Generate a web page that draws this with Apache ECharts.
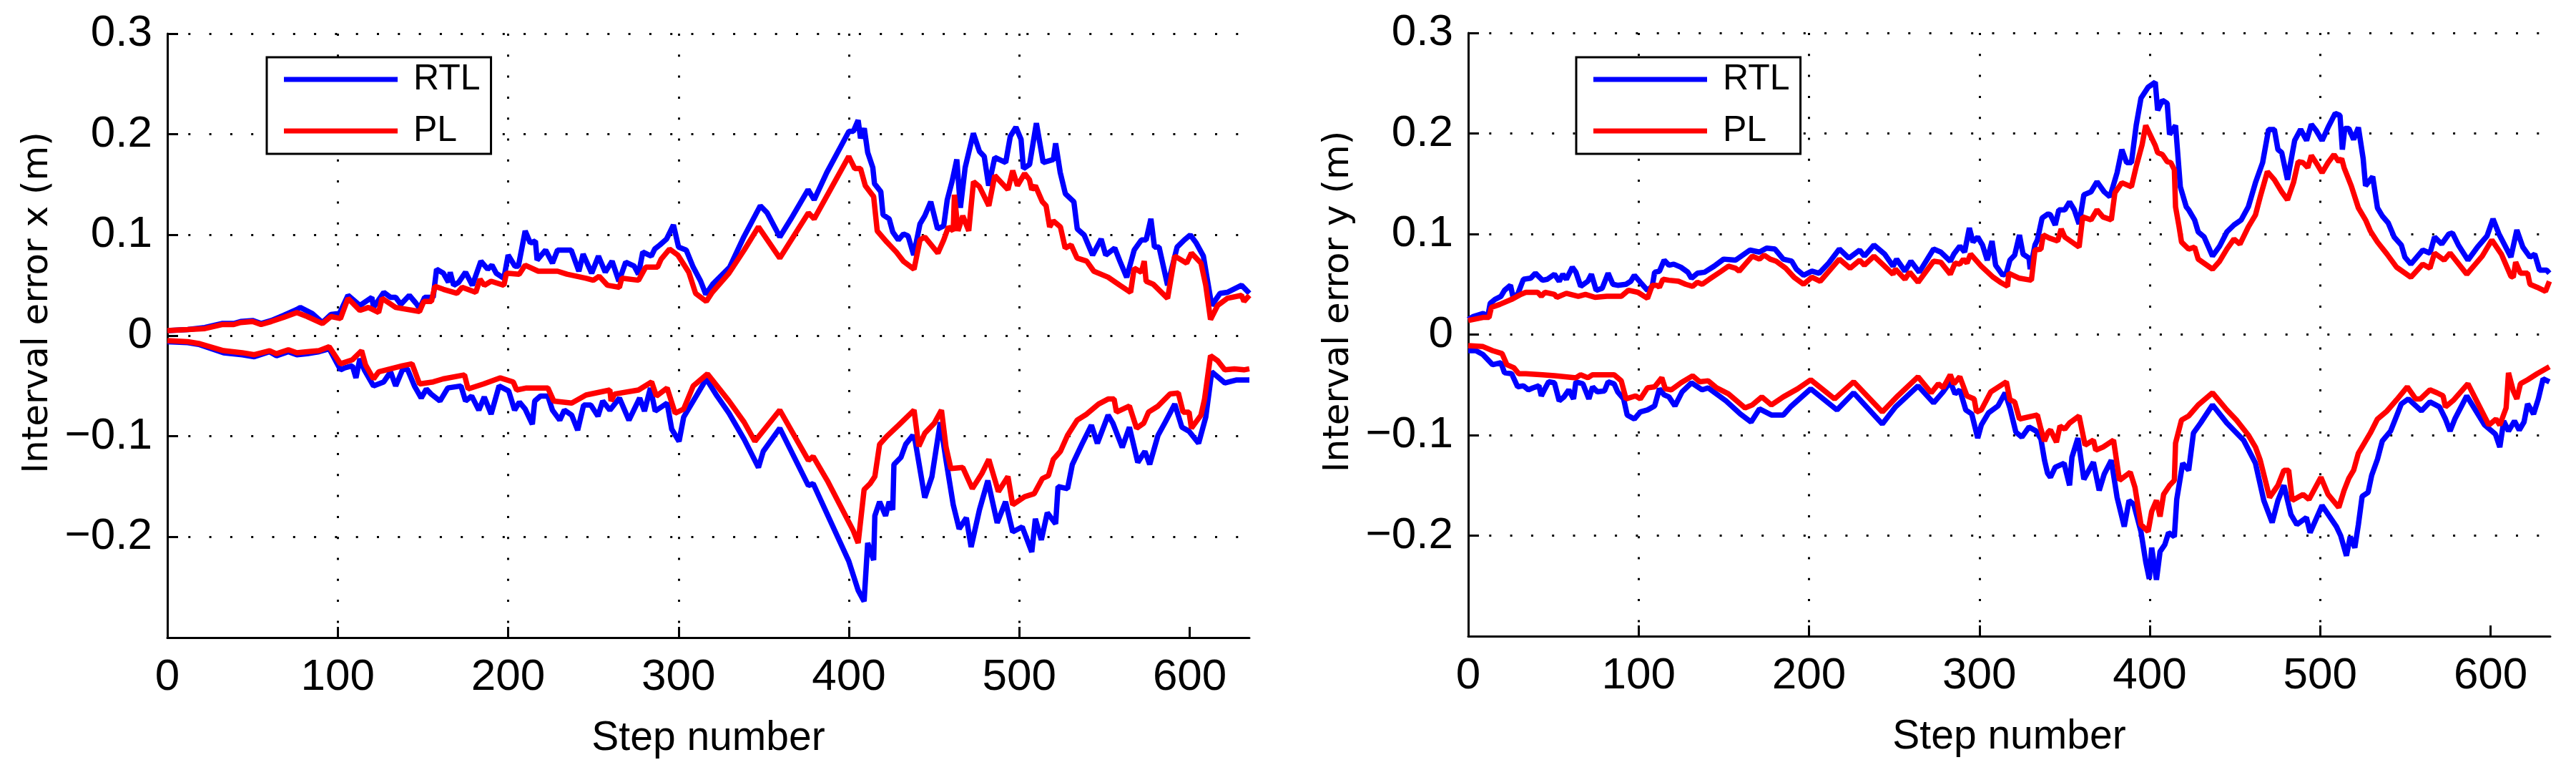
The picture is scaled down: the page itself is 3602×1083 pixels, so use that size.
<!DOCTYPE html>
<html>
<head>
<meta charset="utf-8">
<title>Interval error</title>
<script src="https://cdn.jsdelivr.net/npm/echarts/dist/echarts.min.js"></script>
<style>
    html, body { margin: 0; padding: 0; background: #fff; }
    #chart { width: 3602px; height: 1083px; }
</style>
</head>
<body>
<div id="chart"></div>
<script>
    // ticks
    var stepTicks = [0, 100, 200, 300, 400, 500, 600];
    var stepTickLabels = ['0', '100', '200', '300', '400', '500', '600'];
    var yTickLabels = ['', '\u22120.2', '\u22120.1', '0', '0.1', '0.2', '0.3']; // -0.3 .. 0.3
    var seriesNames = ['RTL', 'PL'];
    var axisNames = ['Interval error x (m)', 'Interval error y (m)'];

    // left panel: interval error x, [step, value]
    var xRtlUpper = [[0,0.005],[12,0.006],[22,0.008],[32,0.012],[39,0.012],[43,0.014],[50,0.015],[55,0.012],[61,0.015],[68,0.020],[76,0.026],[78,0.028],[85,0.022],[91,0.013],[96,0.021],[101,0.022],[106,0.040],[113,0.030],[120,0.038],[121,0.028],[127,0.043],[131,0.038],[134,0.038],[137,0.031],[142,0.040],[146,0.032],[148,0.027],[151,0.038],[156,0.038],[158,0.066],[162,0.062],[165,0.053],[166,0.063],[168,0.050],[171,0.053],[175,0.063],[179,0.050],[184,0.074],[188,0.066],[190.5,0.070],[193,0.062],[197.5,0.057],[200,0.080],[204,0.069],[206,0.069],[210,0.104],[213,0.092],[216,0.094],[217,0.075],[222,0.085],[226,0.072],[229,0.085],[237,0.085],[241.5,0.064],[244,0.081],[249,0.062],[253,0.079],[257,0.063],[261,0.074],[265,0.054],[269,0.073],[274,0.069],[276.5,0.061],[279,0.083],[284,0.079],[286,0.086],[289,0.090],[293,0.096],[297,0.110],[300,0.088],[304.5,0.085],[308.6,0.068],[313,0.054],[316,0.041],[320,0.051],[330,0.068],[338,0.097],[348,0.129],[352,0.122],[357,0.106],[359.4,0.098],[366,0.116],[376,0.145],[379.6,0.135],[387,0.162],[400,0.203],[402.6,0.203],[405.4,0.214],[406.8,0.196],[409,0.206],[411,0.182],[414,0.167],[415,0.151],[418.7,0.143],[420,0.120],[423.6,0.116],[425.7,0.103],[429,0.095],[432,0.101],[434.7,0.099],[438,0.080],[441.7,0.111],[444.5,0.119],[448,0.133],[452,0.106],[455.6,0.109],[457.7,0.135],[460.5,0.153],[463.3,0.175],[465.4,0.127],[468.2,0.167],[473,0.201],[476.6,0.183],[479.4,0.178],[482,0.149],[485.6,0.177],[492,0.172],[494.7,0.198],[498,0.207],[501,0.195],[502.4,0.166],[506,0.170],[510,0.211],[514,0.172],[520,0.175],[521.3,0.191],[524,0.162],[527,0.141],[532,0.133],[534,0.106],[538,0.100],[543,0.080],[548,0.096],[550.7,0.080],[556,0.087],[559,0.074],[563,0.058],[567.4,0.085],[571.6,0.095],[574.4,0.095],[577.2,0.116],[579.3,0.088],[582,0.088],[587,0.050],[592.6,0.088],[596.8,0.095],[600.3,0.100],[603.8,0.092],[608,0.079],[612.9,0.030],[617.8,0.042],[622,0.043],[630.4,0.050],[635,0.042]];
    var xPlUpper = [[0,0.005],[12,0.006],[22,0.007],[32,0.011],[39,0.011],[43,0.013],[50,0.014],[55,0.011],[61,0.014],[68,0.018],[76,0.023],[82,0.019],[91,0.012],[96,0.019],[101.6,0.017],[106,0.037],[113,0.025],[118,0.028],[124,0.023],[126,0.037],[134,0.028],[148,0.024],[150.5,0.034],[155,0.034],[157,0.049],[162,0.046],[170,0.042],[173,0.048],[181,0.043],[183.5,0.056],[186,0.050],[190,0.054],[197.5,0.050],[199,0.062],[206.5,0.061],[210,0.070],[217.7,0.064],[229,0.064],[234.5,0.061],[245.7,0.057],[250,0.055],[253.4,0.059],[258.3,0.050],[265.3,0.048],[266.7,0.057],[276.5,0.055],[280.7,0.068],[287.7,0.068],[289.8,0.076],[294.7,0.086],[299.6,0.080],[306,0.063],[310,0.042],[316.3,0.034],[319.8,0.043],[329.6,0.062],[338.5,0.085],[346.9,0.108],[359.4,0.077],[376.2,0.122],[379.6,0.116],[399.9,0.178],[403.4,0.166],[406.8,0.166],[409.6,0.149],[414.5,0.138],[416.6,0.104],[422.2,0.093],[427.8,0.083],[431.9,0.074],[438.2,0.066],[441.7,0.095],[444.5,0.098],[452.2,0.082],[455.6,0.095],[458.4,0.108],[461.2,0.104],[461.9,0.140],[464,0.104],[466.8,0.119],[470.3,0.104],[473.1,0.153],[476.6,0.148],[482.1,0.129],[485.6,0.159],[493.3,0.145],[496.1,0.164],[498.9,0.149],[503.1,0.161],[505.9,0.155],[507.3,0.145],[509.4,0.149],[513.5,0.133],[515.7,0.129],[517.8,0.108],[519.9,0.114],[524.1,0.108],[526.9,0.087],[530.4,0.090],[533.9,0.077],[539.5,0.074],[543.7,0.064],[552.1,0.058],[559,0.050],[565.3,0.043],[567.4,0.067],[571.6,0.063],[573.3,0.074],[574.4,0.054],[578.6,0.051],[587,0.037],[591.2,0.079],[598.2,0.072],[601,0.082],[606.6,0.072],[609.4,0.050],[612.2,0.016],[616.4,0.030],[622,0.037],[630.4,0.040],[631.8,0.034],[635,0.040]];
    var xRtlLower = [[0,-0.006],[12,-0.007],[19,-0.009],[33,-0.017],[44,-0.019],[51,-0.021],[60,-0.016],[64,-0.020],[71,-0.016],[76,-0.019],[82,-0.018],[89,-0.016],[95,-0.013],[101.6,-0.034],[104,-0.032],[108.6,-0.030],[110.7,-0.042],[113,-0.023],[115.6,-0.034],[121,-0.050],[127,-0.046],[131,-0.036],[134,-0.050],[138,-0.034],[140.8,-0.033],[145,-0.050],[149,-0.062],[152,-0.053],[154.8,-0.058],[160,-0.065],[164.6,-0.052],[172.3,-0.050],[175,-0.065],[178.6,-0.060],[182.8,-0.074],[186,-0.061],[190,-0.078],[194.7,-0.050],[200.3,-0.055],[203.8,-0.074],[206.6,-0.066],[210,-0.073],[214.2,-0.088],[215.6,-0.065],[219,-0.060],[223.3,-0.060],[226,-0.074],[230.3,-0.084],[233,-0.074],[237.3,-0.079],[240.8,-0.094],[244.3,-0.069],[248.5,-0.069],[252.7,-0.080],[255.5,-0.065],[259.7,-0.074],[265.3,-0.062],[270.9,-0.084],[277.2,-0.062],[280,-0.075],[283.5,-0.052],[286.3,-0.075],[293.3,-0.067],[296,-0.093],[300.3,-0.105],[303,-0.081],[310,-0.061],[316.3,-0.043],[322.6,-0.060],[329.6,-0.077],[338.5,-0.103],[346.9,-0.131],[349.7,-0.115],[359.4,-0.092],[376.2,-0.149],[379,-0.147],[399.9,-0.224],[405.4,-0.253],[408.9,-0.264],[411,-0.206],[414.5,-0.223],[415.2,-0.179],[418,-0.165],[421.5,-0.179],[423.6,-0.165],[425.7,-0.173],[426.4,-0.128],[430.5,-0.121],[433.3,-0.108],[437.5,-0.099],[438.9,-0.105],[444.5,-0.161],[448.7,-0.140],[453.6,-0.086],[457,-0.124],[461.2,-0.168],[464.7,-0.192],[468.9,-0.181],[471.7,-0.210],[476.6,-0.173],[481.5,-0.144],[487,-0.186],[491.9,-0.165],[496.1,-0.195],[501.7,-0.190],[507.3,-0.215],[509.4,-0.182],[512.9,-0.203],[516.4,-0.176],[521.3,-0.187],[522.7,-0.150],[528.3,-0.152],[531.1,-0.128],[536.7,-0.108],[542.3,-0.089],[545.8,-0.107],[552.1,-0.079],[554.9,-0.087],[560.4,-0.111],[564.6,-0.091],[569.5,-0.126],[573.7,-0.115],[576.5,-0.128],[581.4,-0.099],[585.6,-0.086],[591.2,-0.068],[595.4,-0.091],[599.6,-0.095],[605.2,-0.107],[609.4,-0.081],[612.9,-0.036],[616.4,-0.041],[620.6,-0.047],[627.6,-0.044],[635,-0.044]];
    var xPlLower = [[0,-0.005],[12,-0.006],[19,-0.008],[33,-0.015],[44,-0.017],[51,-0.019],[60,-0.015],[64,-0.018],[71,-0.014],[76,-0.017],[82,-0.016],[89,-0.015],[95,-0.011],[101.6,-0.028],[108.6,-0.024],[114,-0.015],[116.3,-0.029],[121,-0.043],[124,-0.036],[131,-0.033],[138,-0.030],[143.6,-0.028],[148,-0.048],[156,-0.046],[161.8,-0.043],[174.4,-0.039],[176.5,-0.053],[185.6,-0.048],[195.4,-0.042],[203,-0.046],[205,-0.054],[210.8,-0.052],[223.3,-0.052],[226.8,-0.065],[237.3,-0.067],[245.7,-0.059],[259.7,-0.054],[260.4,-0.065],[262.5,-0.058],[276.5,-0.054],[284.2,-0.046],[287,-0.060],[293.3,-0.052],[298,-0.077],[303,-0.073],[308.6,-0.050],[317,-0.038],[322.6,-0.050],[329.6,-0.065],[338.5,-0.086],[344.8,-0.105],[359.4,-0.074],[376.2,-0.124],[379,-0.120],[387.3,-0.144],[402.6,-0.194],[405.4,-0.206],[408.9,-0.153],[412.4,-0.147],[415.2,-0.140],[418,-0.108],[422.2,-0.100],[429.1,-0.089],[438.2,-0.074],[441,-0.110],[444.5,-0.097],[450.1,-0.087],[454.3,-0.074],[457,-0.111],[459.8,-0.132],[466.8,-0.131],[472.4,-0.152],[478,-0.137],[482.1,-0.123],[487.7,-0.155],[493.3,-0.140],[496.1,-0.168],[503.1,-0.160],[508.7,-0.157],[513.5,-0.142],[517.1,-0.139],[519.9,-0.123],[524.1,-0.115],[528.3,-0.099],[533.9,-0.084],[539.5,-0.078],[546.5,-0.068],[552.1,-0.063],[555.6,-0.063],[557,-0.076],[564.6,-0.070],[568.8,-0.092],[573,-0.087],[575.8,-0.076],[581.4,-0.070],[588.4,-0.058],[593.3,-0.057],[596.1,-0.076],[599.6,-0.076],[601,-0.092],[606.6,-0.079],[608.7,-0.063],[612.2,-0.020],[616.4,-0.025],[620.6,-0.034],[626.2,-0.033],[631.8,-0.034],[635,-0.033]];

    // right panel: interval error y, [step, value]
    var yRtlUpper = [[0,0.015],[3,0.018],[8.7,0.021],[11.5,0.018],[12.9,0.031],[15.7,0.035],[19.2,0.038],[21.3,0.044],[24.8,0.049],[26.2,0.038],[29,0.040],[32.4,0.055],[36.6,0.056],[39.4,0.061],[43.6,0.054],[46.4,0.055],[50.6,0.060],[53.4,0.053],[55.5,0.060],[57.6,0.055],[61.1,0.067],[63.2,0.062],[66,0.048],[70.2,0.053],[72.3,0.060],[75.1,0.044],[78.6,0.046],[82.1,0.061],[84.9,0.050],[87.7,0.049],[92.6,0.050],[95.4,0.053],[97.5,0.059],[101,0.052],[105.2,0.044],[108,0.048],[109.4,0.062],[112.2,0.063],[115,0.074],[117.8,0.069],[120.6,0.070],[124.8,0.067],[128.9,0.062],[131,0.056],[134.5,0.061],[138.7,0.062],[144.3,0.068],[149.9,0.075],[156.9,0.074],[165.3,0.084],[170.9,0.082],[175.1,0.086],[180,0.085],[184.9,0.075],[189.8,0.073],[192.6,0.065],[196.8,0.059],[201.7,0.063],[205.9,0.061],[211.5,0.071],[217.8,0.085],[223.4,0.076],[229.7,0.084],[232.5,0.078],[238.1,0.089],[244.4,0.080],[249.3,0.068],[251.4,0.075],[256.3,0.063],[259.8,0.073],[264.7,0.062],[273.1,0.085],[277.3,0.082],[282.9,0.073],[285,0.080],[288.5,0.088],[291.3,0.082],[294.1,0.106],[296.2,0.092],[299,0.097],[301.8,0.089],[304.6,0.074],[307.4,0.093],[309.5,0.069],[313.7,0.059],[315.8,0.061],[317.9,0.074],[320.7,0.079],[323.5,0.099],[325.6,0.080],[329.1,0.076],[329.8,0.065],[332.6,0.089],[334,0.094],[336.8,0.116],[340.3,0.120],[341.7,0.119],[344.5,0.109],[346.6,0.124],[350.1,0.124],[352.9,0.132],[355.7,0.124],[358.5,0.110],[361.3,0.139],[365.5,0.142],[369,0.152],[373.2,0.142],[376.6,0.137],[380.8,0.161],[383.6,0.184],[386.4,0.171],[389.2,0.171],[392,0.208],[394.8,0.235],[399,0.246],[403.2,0.251],[404.6,0.223],[407.4,0.233],[410.2,0.230],[411.6,0.199],[415.1,0.208],[417.9,0.147],[421.4,0.127],[422.8,0.124],[426.3,0.114],[428.4,0.102],[431.9,0.097],[436.8,0.078],[441,0.088],[445.2,0.102],[449.4,0.109],[453.6,0.114],[457.8,0.127],[462,0.151],[466.2,0.171],[469.7,0.204],[473.1,0.204],[475.2,0.184],[477.4,0.181],[480.8,0.154],[485,0.193],[488.5,0.204],[492,0.193],[494.8,0.209],[497.6,0.203],[501.1,0.193],[504.6,0.206],[508.8,0.220],[511.6,0.218],[513,0.184],[514.4,0.205],[516.8,0.205],[519.6,0.194],[522.4,0.206],[525.2,0.175],[526.6,0.148],[530.8,0.157],[533.6,0.126],[536.4,0.118],[539.9,0.111],[543.4,0.097],[547.6,0.089],[549.7,0.077],[553.2,0.070],[560.2,0.084],[564.4,0.081],[567.1,0.097],[571.3,0.090],[575.5,0.100],[577.6,0.101],[581.1,0.089],[586.7,0.074],[592.3,0.087],[597.9,0.098],[601.4,0.115],[604.9,0.100],[611.9,0.077],[615.4,0.104],[618.9,0.087],[623.1,0.077],[625.9,0.080],[628.7,0.064],[632.9,0.064],[634.5,0.061]];
    var yPlUpper = [[0,0.014],[8.7,0.017],[12.2,0.017],[13.6,0.027],[18.5,0.030],[25.5,0.035],[31,0.040],[33.8,0.042],[40.8,0.042],[42.9,0.038],[45,0.042],[50.6,0.040],[52,0.037],[57.6,0.041],[64.6,0.038],[68.8,0.040],[74.4,0.037],[81.4,0.038],[89.8,0.038],[94,0.044],[99.6,0.042],[105.2,0.036],[108,0.049],[110.8,0.049],[112.2,0.047],[114.3,0.055],[117.8,0.054],[123.4,0.053],[127.6,0.050],[131.7,0.048],[134.5,0.052],[137.3,0.050],[141.5,0.055],[148.5,0.063],[152.7,0.068],[156.9,0.066],[159,0.063],[166.7,0.078],[170.9,0.075],[173.7,0.079],[177.2,0.075],[180.7,0.073],[186.3,0.066],[191.2,0.057],[196.8,0.050],[201.7,0.057],[206.6,0.053],[217.8,0.075],[224.1,0.066],[229.7,0.074],[232.5,0.069],[238.1,0.078],[243.7,0.069],[249.3,0.060],[250.7,0.065],[256.3,0.055],[259.1,0.062],[264,0.052],[273.1,0.073],[277.3,0.072],[282.9,0.060],[285.7,0.071],[288.5,0.070],[290.6,0.075],[292.7,0.071],[294.8,0.080],[301.1,0.068],[308.1,0.057],[312.3,0.052],[316.5,0.048],[317.2,0.061],[323.5,0.056],[330.5,0.054],[332.6,0.084],[336.1,0.085],[337.5,0.099],[341,0.096],[345.9,0.093],[348,0.105],[350.1,0.097],[358.5,0.087],[360.6,0.117],[365.5,0.114],[369,0.124],[372.5,0.117],[377.4,0.114],[379.5,0.141],[383.6,0.151],[389.2,0.147],[392,0.167],[395.5,0.189],[397.6,0.208],[400.4,0.198],[403.2,0.188],[404.6,0.181],[407.4,0.179],[410.2,0.172],[412.3,0.171],[414.4,0.164],[415.1,0.127],[417.2,0.107],[418.6,0.092],[422.8,0.085],[426.3,0.087],[428.4,0.075],[436.8,0.065],[441,0.073],[445.2,0.085],[449.4,0.095],[452.9,0.090],[457.8,0.107],[462,0.119],[464.8,0.137],[469,0.162],[473.1,0.154],[477.4,0.142],[480.8,0.134],[484.3,0.151],[487.1,0.172],[489.9,0.171],[492.7,0.166],[494.8,0.178],[498.3,0.169],[501.1,0.161],[504.6,0.171],[508.1,0.179],[510.9,0.172],[512.6,0.175],[514,0.166],[518.2,0.148],[522.4,0.126],[526.6,0.114],[529.4,0.103],[533.6,0.092],[539.2,0.080],[544.8,0.067],[553.2,0.057],[560.2,0.070],[564.4,0.066],[567.1,0.081],[572.7,0.074],[576.2,0.081],[586,0.060],[595.1,0.078],[600.7,0.094],[606.3,0.080],[611.9,0.058],[613.3,0.057],[614.7,0.072],[617.5,0.061],[621.7,0.061],[623.1,0.050],[627.3,0.047],[632.2,0.043],[634.5,0.053]];
    var yRtlLower = [[0,-0.016],[4.5,-0.016],[8.7,-0.020],[14.3,-0.030],[19.2,-0.028],[21.3,-0.038],[25.5,-0.039],[29,-0.052],[32.4,-0.051],[35.3,-0.055],[38,-0.053],[41.5,-0.051],[42.9,-0.061],[45,-0.054],[47.2,-0.047],[50.6,-0.048],[53.4,-0.066],[56.2,-0.062],[59,-0.055],[61.8,-0.064],[63.2,-0.047],[67.3,-0.049],[70.8,-0.064],[73,-0.052],[75.8,-0.057],[80,-0.056],[82.1,-0.047],[85.6,-0.049],[87.7,-0.057],[91.2,-0.064],[93.3,-0.080],[97.5,-0.084],[101,-0.077],[105.2,-0.075],[109.4,-0.071],[112.2,-0.054],[115,-0.060],[117.8,-0.062],[121.3,-0.071],[125.5,-0.057],[131,-0.048],[137.3,-0.055],[140.8,-0.053],[151.3,-0.066],[159.7,-0.079],[166,-0.087],[170.9,-0.074],[177.9,-0.080],[184.9,-0.080],[189.1,-0.072],[201,-0.054],[216.4,-0.075],[226.2,-0.058],[243,-0.089],[250.7,-0.072],[264,-0.051],[273.1,-0.068],[278.7,-0.057],[282.9,-0.047],[285.7,-0.059],[288.5,-0.055],[292,-0.075],[295.5,-0.079],[299,-0.103],[301.1,-0.090],[305.3,-0.078],[310.9,-0.071],[315.1,-0.058],[317.9,-0.073],[321.4,-0.097],[324.9,-0.102],[329.1,-0.092],[333.3,-0.096],[336.1,-0.104],[338.2,-0.125],[340,-0.138],[341.7,-0.142],[344.5,-0.132],[349.7,-0.128],[352.9,-0.150],[354.3,-0.122],[357.8,-0.103],[361.3,-0.144],[366.9,-0.127],[370.3,-0.155],[373.2,-0.139],[377.4,-0.125],[380.8,-0.162],[385,-0.191],[387.8,-0.165],[390.6,-0.169],[394.8,-0.196],[397.6,-0.226],[399.7,-0.243],[401.1,-0.212],[403.9,-0.244],[406,-0.216],[408.8,-0.209],[411,-0.197],[414.4,-0.201],[415.8,-0.164],[419.3,-0.128],[422.8,-0.135],[425.6,-0.098],[429.8,-0.088],[436.8,-0.070],[445.2,-0.088],[455,-0.105],[462,-0.128],[466.9,-0.165],[471.8,-0.187],[475.2,-0.165],[478.7,-0.150],[482.8,-0.179],[486.3,-0.189],[491.9,-0.182],[494.1,-0.197],[501.1,-0.170],[509.5,-0.191],[512,-0.200],[515.4,-0.220],[517.6,-0.201],[520.3,-0.212],[522.4,-0.189],[524.6,-0.161],[528.1,-0.157],[530.2,-0.140],[533.6,-0.124],[536.4,-0.106],[541.3,-0.096],[544.8,-0.081],[547.6,-0.069],[551.7,-0.064],[559.4,-0.076],[564.4,-0.067],[570,-0.072],[573.5,-0.084],[576.2,-0.096],[579,-0.084],[586,-0.061],[596.5,-0.090],[602.8,-0.099],[605.4,-0.112],[607.7,-0.086],[610.5,-0.096],[614,-0.086],[616.8,-0.095],[619.6,-0.087],[621.7,-0.069],[625.2,-0.079],[628,-0.064],[630.8,-0.044],[634.5,-0.047]];
    var yPlLower = [[0,-0.011],[8.7,-0.012],[14.3,-0.016],[19.9,-0.019],[22.7,-0.030],[26.8,-0.033],[29.7,-0.039],[33.8,-0.039],[43.6,-0.040],[50.6,-0.041],[63.2,-0.043],[66,-0.040],[70.2,-0.043],[73,-0.040],[85.6,-0.040],[89.8,-0.046],[92.6,-0.064],[98.2,-0.061],[101,-0.064],[105.2,-0.053],[109.4,-0.052],[113.6,-0.043],[115.7,-0.054],[119.2,-0.055],[124.8,-0.048],[131.7,-0.041],[135.9,-0.047],[140.8,-0.046],[145.7,-0.053],[152.7,-0.059],[162.5,-0.073],[166.7,-0.070],[172.3,-0.062],[177.9,-0.070],[184.9,-0.062],[193.3,-0.054],[201,-0.045],[215,-0.064],[226.2,-0.047],[243,-0.077],[252.1,-0.061],[264,-0.042],[271.7,-0.058],[275.9,-0.049],[278.7,-0.053],[282.9,-0.040],[285,-0.049],[288.5,-0.042],[292.7,-0.061],[296.9,-0.064],[298.3,-0.077],[301.1,-0.075],[306.7,-0.057],[315.8,-0.047],[317.9,-0.065],[320.7,-0.067],[323.5,-0.084],[334,-0.080],[336.1,-0.094],[338.2,-0.106],[340.3,-0.097],[341.7,-0.095],[345.2,-0.107],[347.3,-0.091],[350.1,-0.094],[352.9,-0.088],[358.5,-0.081],[362,-0.110],[366.9,-0.105],[368.3,-0.115],[372.5,-0.112],[378.7,-0.105],[382.2,-0.145],[388.5,-0.137],[391.3,-0.152],[394.8,-0.189],[399,-0.196],[401.1,-0.176],[403.9,-0.165],[406,-0.181],[408.1,-0.159],[411.6,-0.150],[414.4,-0.145],[415.1,-0.108],[418.6,-0.085],[422.8,-0.081],[428.4,-0.070],[436.8,-0.058],[445.2,-0.075],[450.8,-0.085],[457.8,-0.100],[462,-0.112],[464.8,-0.125],[470.3,-0.162],[475.2,-0.150],[478.7,-0.135],[481.5,-0.135],[483.6,-0.165],[489.9,-0.159],[493.4,-0.164],[500.4,-0.142],[504.6,-0.159],[510.9,-0.172],[514,-0.155],[516.8,-0.143],[519.6,-0.135],[522.4,-0.118],[525.2,-0.110],[529.4,-0.098],[533.6,-0.084],[539.2,-0.076],[544.8,-0.065],[551.1,-0.052],[556,-0.064],[558.8,-0.064],[564.4,-0.055],[568.6,-0.058],[572.1,-0.061],[573.5,-0.072],[578.4,-0.065],[586.7,-0.049],[592.7,-0.069],[599,-0.090],[603.2,-0.084],[605.4,-0.090],[609.1,-0.073],[610.5,-0.038],[613.3,-0.056],[615.4,-0.064],[617.5,-0.049],[621.7,-0.045],[627.3,-0.039],[634.5,-0.032]];

    var blue = '#0000ff';
    var red = '#ff0000';
    var font = 'Liberation Sans, Arial, Helvetica, sans-serif';
    var dotted = { color: '#000', width: 3, type: [3, 26.3] };

    function xAxisFor(i) {
        return {
            type: 'value', gridIndex: i, min: 0, max: 635, interval: 100,
            name: 'Step number', nameLocation: 'middle', nameGap: 113,
            nameTextStyle: { fontFamily: font, fontSize: 57, color: '#000' },
            axisLine: { onZero: false, lineStyle: { color: '#000', width: 3 } },
            axisTick: { inside: true, length: 15, lineStyle: { color: '#000', width: 3 }, customValues: stepTicks },
            axisLabel: {
                fontFamily: font, fontSize: 62, color: '#000', margin: 25, customValues: stepTicks,
                formatter: function (v) { return stepTickLabels[stepTicks.indexOf(Math.round(v))] || ''; }
            },
            splitLine: { show: true, showMaxLine: false, lineStyle: dotted }
        };
    }

    function yAxisFor(i) {
        return {
            type: 'value', gridIndex: i, min: -0.3, max: 0.3, interval: 0.1,
            name: axisNames[i], nameLocation: 'middle', nameGap: 156, nameRotate: 90,
            nameTextStyle: { fontFamily: 'DejaVu Sans', fontSize: 50, color: '#000', padding: [0, 0, 0, 92] },
            axisLine: { onZero: false, lineStyle: { color: '#000', width: 3 } },
            axisTick: { inside: true, length: 15, lineStyle: { color: '#000', width: 3 } },
            axisLabel: {
                fontFamily: font, fontSize: 62, color: '#000', margin: 21,
                formatter: function (v) { return yTickLabels[Math.round(v * 10) + 3] || ''; }
            },
            splitLine: { show: true, lineStyle: dotted }
        };
    }

    function legendFor(left) {
        return {
            left: left, top: 80, orient: 'vertical',
            data: seriesNames, icon: 'rect', itemWidth: 159, itemHeight: 7, itemGap: 22,
            padding: [6, 15, 7, 24],
            backgroundColor: '#fff', borderColor: '#000', borderWidth: 3,
            selectedMode: false,
            formatter: function (name) { return '{t|' + name + '}'; },
            textStyle: {
                rich: { t: { fontFamily: font, fontSize: 50, color: '#000', lineHeight: 60, padding: [0, 0, 0, 17] } }
            }
        };
    }

    function line(name, data, color, i) {
        return {
            name: name, type: 'line', data: data, xAxisIndex: i, yAxisIndex: i,
            symbol: 'none', showSymbol: false, color: color,
            lineStyle: { color: color, width: 7.5 }
        };
    }

    var chart = echarts.init(document.getElementById('chart'));
    var option = {
        backgroundColor: '#fff',
        animation: false,
        grid: [
            { left: 234, top: 47, width: 1513, height: 844 },
            { left: 2053, top: 46, width: 1513, height: 843 }
        ],
        legend: [legendFor(373), legendFor(2204)],
        xAxis: [xAxisFor(0), xAxisFor(1)],
        yAxis: [yAxisFor(0), yAxisFor(1)],
        series: [
            line('RTL', xRtlUpper, blue, 0),
            line('RTL', xRtlLower, blue, 0),
            line('PL', xPlUpper, red, 0),
            line('PL', xPlLower, red, 0),
            line('RTL', yRtlUpper, blue, 1),
            line('RTL', yRtlLower, blue, 1),
            line('PL', yPlUpper, red, 1),
            line('PL', yPlLower, red, 1)
        ]
    };
    chart.setOption(option);
</script>
</body>
</html>
